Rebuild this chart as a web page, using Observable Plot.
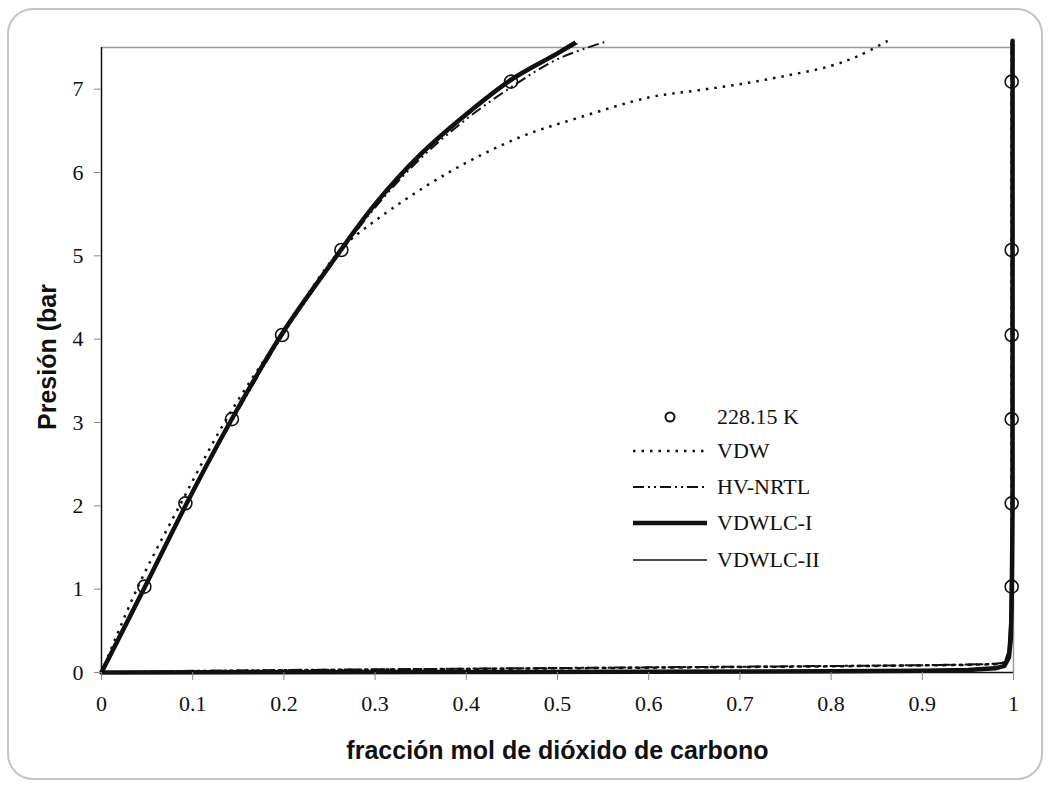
<!DOCTYPE html>
<html><head><meta charset="utf-8">
<script src="https://cdn.jsdelivr.net/npm/d3@7"></script>
<script src="https://cdn.jsdelivr.net/npm/@observablehq/plot@0.6"></script>
<style>
body{margin:0;background:#fff;}
#wrap{position:relative;width:1049px;height:785px;overflow:hidden;}
#border{position:absolute;left:7px;top:8px;width:1032px;height:768px;border:2px solid #c4c4c4;border-radius:26px;pointer-events:none;}
#legend{position:absolute;left:633px;top:0;font-family:"Liberation Serif",serif;font-size:22px;color:#111;}
.row{position:absolute;left:0;display:flex;align-items:center;height:30px;white-space:nowrap;}
.row span{margin-left:10px;}
</style></head>
<body>
<div id="wrap"><div id="chart"></div><div id="border"></div><div id="legend"></div></div>
<script>
// ---- data ----
const xTicks = [0,0.1,0.2,0.3,0.4,0.5,0.6,0.7,0.8,0.9,1];
const yTicks = [0,1,2,3,4,5,6,7];
const xTitle = "fracción mol de dióxido de carbono";
const yTitle = "Presión (bar";

// experimental 228.15 K
const expLiqX = [0.047,0.092,0.143,0.198,0.263,0.449];
const expVapX = [0.998,0.998,0.998,0.998,0.998,0.998];
const expP    = [1.03,2.03,3.04,4.05,5.07,7.09];

// VDW (dotted)
const vdwLiqX = [0,0.04,0.087,0.137,0.197,0.262,0.30,0.379,0.458,0.524,0.60,0.65,0.70,0.75,0.80,0.83,0.862];
const vdwLiqP = [0,1.03,2.03,3.04,4.05,5.07,5.42,5.99,6.42,6.66,6.90,6.98,7.06,7.16,7.28,7.40,7.58];
const vdwVapX = [0,0.1,0.2,0.3,0.4,0.5,0.6,0.7,0.8,0.9,0.95,0.98,0.99,0.995,0.997,0.998,0.998];
const vdwVapP = [0,0.015,0.025,0.034,0.042,0.05,0.058,0.066,0.074,0.085,0.092,0.10,0.12,0.25,0.6,1.5,7.55];

// HV-NRTL (dash-dot)
const nrtlLiqX = [0,0.05,0.1,0.15,0.2,0.25,0.3,0.35,0.4,0.45,0.5,0.553];
const nrtlLiqP = [0,1.07,2.15,3.15,4.07,4.86,5.58,6.17,6.64,7.03,7.36,7.57];
const nrtlVapX = [0,0.1,0.2,0.3,0.4,0.5,0.6,0.7,0.8,0.9,0.95,0.98,0.99,0.995,0.997,0.998,0.998];
const nrtlVapP = [0,0.02,0.03,0.038,0.046,0.054,0.062,0.07,0.078,0.088,0.095,0.105,0.12,0.25,0.6,1.5,7.58];

// VDWLC-I (thick)
const lc1LiqX = [0,0.05,0.1,0.15,0.2,0.25,0.3,0.35,0.4,0.45,0.5,0.52];
const lc1LiqP = [0,1.08,2.17,3.18,4.10,4.88,5.62,6.22,6.70,7.12,7.43,7.56];
const lc1VapX = [0,0.2,0.4,0.6,0.8,0.9,0.95,0.98,0.99,0.995,0.997,0.998,0.999,0.999];
const lc1VapP = [0,0.003,0.006,0.01,0.015,0.02,0.03,0.05,0.08,0.18,0.4,0.8,2.0,7.58];

// VDWLC-II (thin)
const lc2LiqX = [0,0.05,0.1,0.15,0.2,0.25,0.3,0.35,0.4,0.45,0.5,0.522];
const lc2LiqP = [0,1.07,2.15,3.16,4.08,4.88,5.60,6.20,6.68,7.10,7.42,7.55];
const lc2VapX = [0,0.2,0.4,0.6,0.8,0.9,0.95,0.98,0.99,0.994,0.996,0.997,0.998,0.998];
const lc2VapP = [0,0.004,0.008,0.012,0.018,0.025,0.035,0.055,0.09,0.25,0.6,1.2,1.6,7.5];

const legendLabels = ["228.15 K","VDW","HV-NRTL","VDWLC-I","VDWLC-II"];

// ---- build ----
const pts = (xs, ps, s) => xs.map((x,i)=>({x, p: ps[i], s}));
const styles = {
  VDW:      {strokeWidth:2.5, dash:"2.5,6"},
  "HV-NRTL":{strokeWidth:2, dash:"11,4,2,4,2,4"},
  "VDWLC-I":{strokeWidth:4.5, dash:null},
  "VDWLC-II":{strokeWidth:1.5, dash:null}
};
const series = [
  ["VDWLC-II", lc2LiqX, lc2LiqP, lc2VapX, lc2VapP],
  ["VDWLC-I", lc1LiqX, lc1LiqP, lc1VapX, lc1VapP],
  ["VDW", vdwLiqX, vdwLiqP, vdwVapX, vdwVapP],
  ["HV-NRTL", nrtlLiqX, nrtlLiqP, nrtlVapX, nrtlVapP]
];
const lineMarks = [];
for (const [name, lx, lp, vx, vp] of series) {
  const st = styles[name];
  lineMarks.push(Plot.line(pts(lx, lp, name), {x:"x", y:"p", stroke:"#111", strokeWidth:st.strokeWidth, strokeDasharray:st.dash, curve:"catmull-rom", strokeLinecap:"butt"}));
  lineMarks.push(Plot.line(pts(vx, vp, name), {x:"x", y:"p", stroke:"#111", strokeWidth:st.strokeWidth, strokeDasharray:st.dash, curve:"linear", strokeLinejoin:"round"}));
}
const expData = [...pts(expLiqX, expP, "L"), ...pts(expVapX, expP, "V")];

const chart = Plot.plot({
  width:1049, height:785,
  marginLeft:101, marginRight:36, marginTop:47, marginBottom:113,
  style:{fontFamily:"'Liberation Serif', serif", fontSize:"22px", background:"transparent", color:"#111"},
  x:{domain:[0,1]},
  y:{domain:[0,7.5]},
  marks:[
    Plot.ruleY([7.5], {stroke:"#9a9a9a", strokeWidth:1.5}),
    Plot.ruleX([1], {stroke:"#9a9a9a", strokeWidth:1.5}),
    Plot.ruleX([0], {stroke:"#111", strokeWidth:1.5}),
    Plot.ruleY([0], {stroke:"#111", strokeWidth:1.5}),
    ...lineMarks,
    Plot.dot(expData, {x:"x", y:"p", r:6.5, stroke:"#111", strokeWidth:1.6, fill:"none"}),
    Plot.axisX({ticks:xTicks, tickSize:8, tickPadding:15, stroke:"#888", fill:"#111", fontSize:22, label:null, tickFormat:d=>String(d)}),
    Plot.axisY({ticks:yTicks, tickSize:7, tickPadding:11, stroke:"#888", fill:"#111", fontSize:22, label:null}),
    Plot.text([xTitle], {text:d=>d, frameAnchor:"bottom", lineAnchor:"middle", dy:78, fontFamily:"'Liberation Sans', Arial, sans-serif", fontWeight:"bold", fontSize:25, fill:"#111"}),
    Plot.text([yTitle], {text:d=>d, frameAnchor:"left", textAnchor:"middle", lineAnchor:"middle", rotate:-90, dx:-54, dy:-3, fontFamily:"'Liberation Sans', Arial, sans-serif", fontWeight:"bold", fontSize:25, fill:"#111"})
  ]
});
document.getElementById("chart").appendChild(chart);

// legend
const legendY = [417,451,487,523,560];
const leg = document.getElementById("legend");
legendLabels.forEach((lab,i)=>{
  const row = document.createElement("div");
  row.className = "row";
  row.style.top = (legendY[i]-15)+"px";
  let sw;
  if (i===0) {
    sw = `<svg width="74" height="30"><circle cx="37" cy="15" r="4.5" fill="none" stroke="#111" stroke-width="2"/></svg>`;
  } else {
    const st = styles[lab];
    sw = `<svg width="74" height="30"><line x1="0" x2="74" y1="15" y2="15" stroke="#111" stroke-width="${st.strokeWidth}" ${st.dash?`stroke-dasharray="${st.dash}"`:""}/></svg>`;
  }
  row.innerHTML = sw + `<span>${lab}</span>`;
  leg.appendChild(row);
});
</script>
</body></html>
